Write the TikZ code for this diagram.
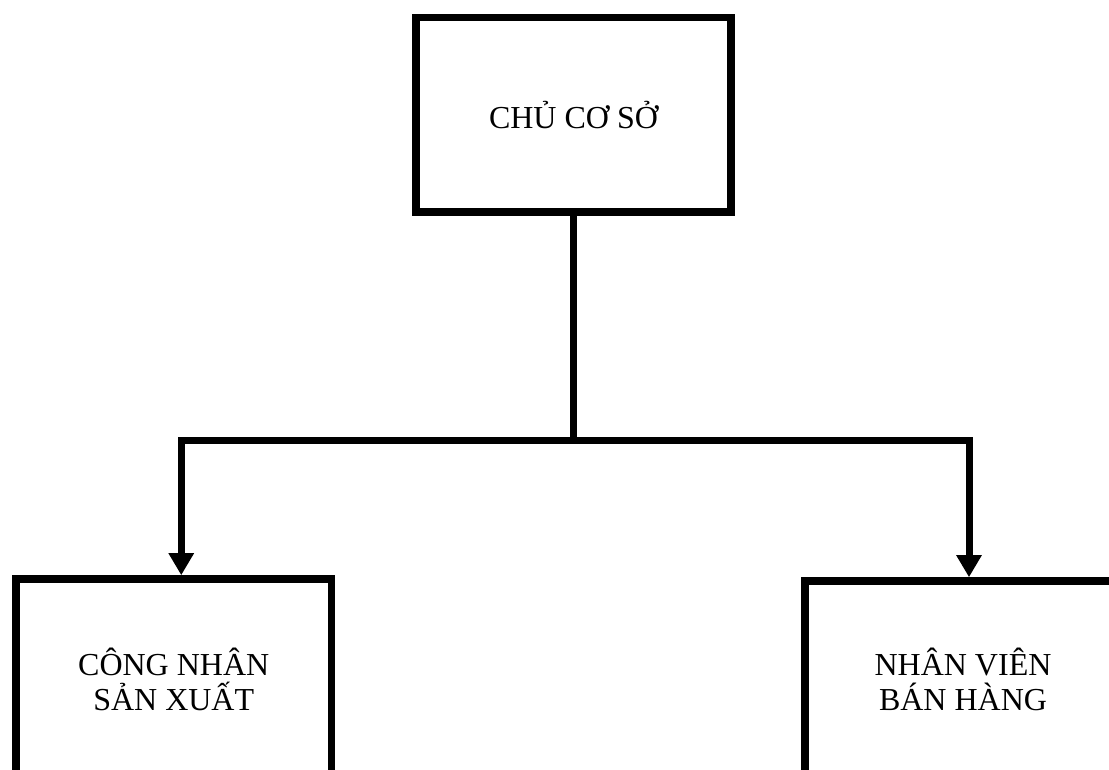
\documentclass[tikz,border=0pt]{standalone}
\usepackage{fontspec}
\setmainfont{Liberation Serif}
\usetikzlibrary{arrows.meta}

\tikzset{
    unitbox/.style={draw, line width=7.5pt, inner sep=0pt, align=center,
        font=\fontsize{32}{35}\selectfont},
    link/.style={line width=7pt},
    arrowlink/.style={line width=7pt, -{Triangle[width=24pt,length=22pt]}}
}

\begin{document}
\begin{tikzpicture}[x=1pt, y=1pt]
                \useasboundingbox (0,0) rectangle (1109,769);
                \node[unitbox, minimum width=315pt, minimum height=194.5pt] (owner) at (573.5,654.25) {CHỦ CƠ SỞ};
                \node[unitbox, minimum width=315.5pt, minimum height=200pt] (workers) at (173.75,90) {CÔNG NHÂN\\SẢN XUẤT};
                \node[unitbox, minimum width=316pt, minimum height=196pt] (sellers) at (963,90) {NHÂN VIÊN\\BÁN HÀNG};
                \coordinate (split) at (573.5,328);
                \draw[link] (owner.south) -- (split);
                \draw[arrowlink] (split) -| ([xshift=7.5pt]workers.north);
                \draw[arrowlink] (split) -| ([xshift=6pt]sellers.north);
            \end{tikzpicture}
\end{document}
